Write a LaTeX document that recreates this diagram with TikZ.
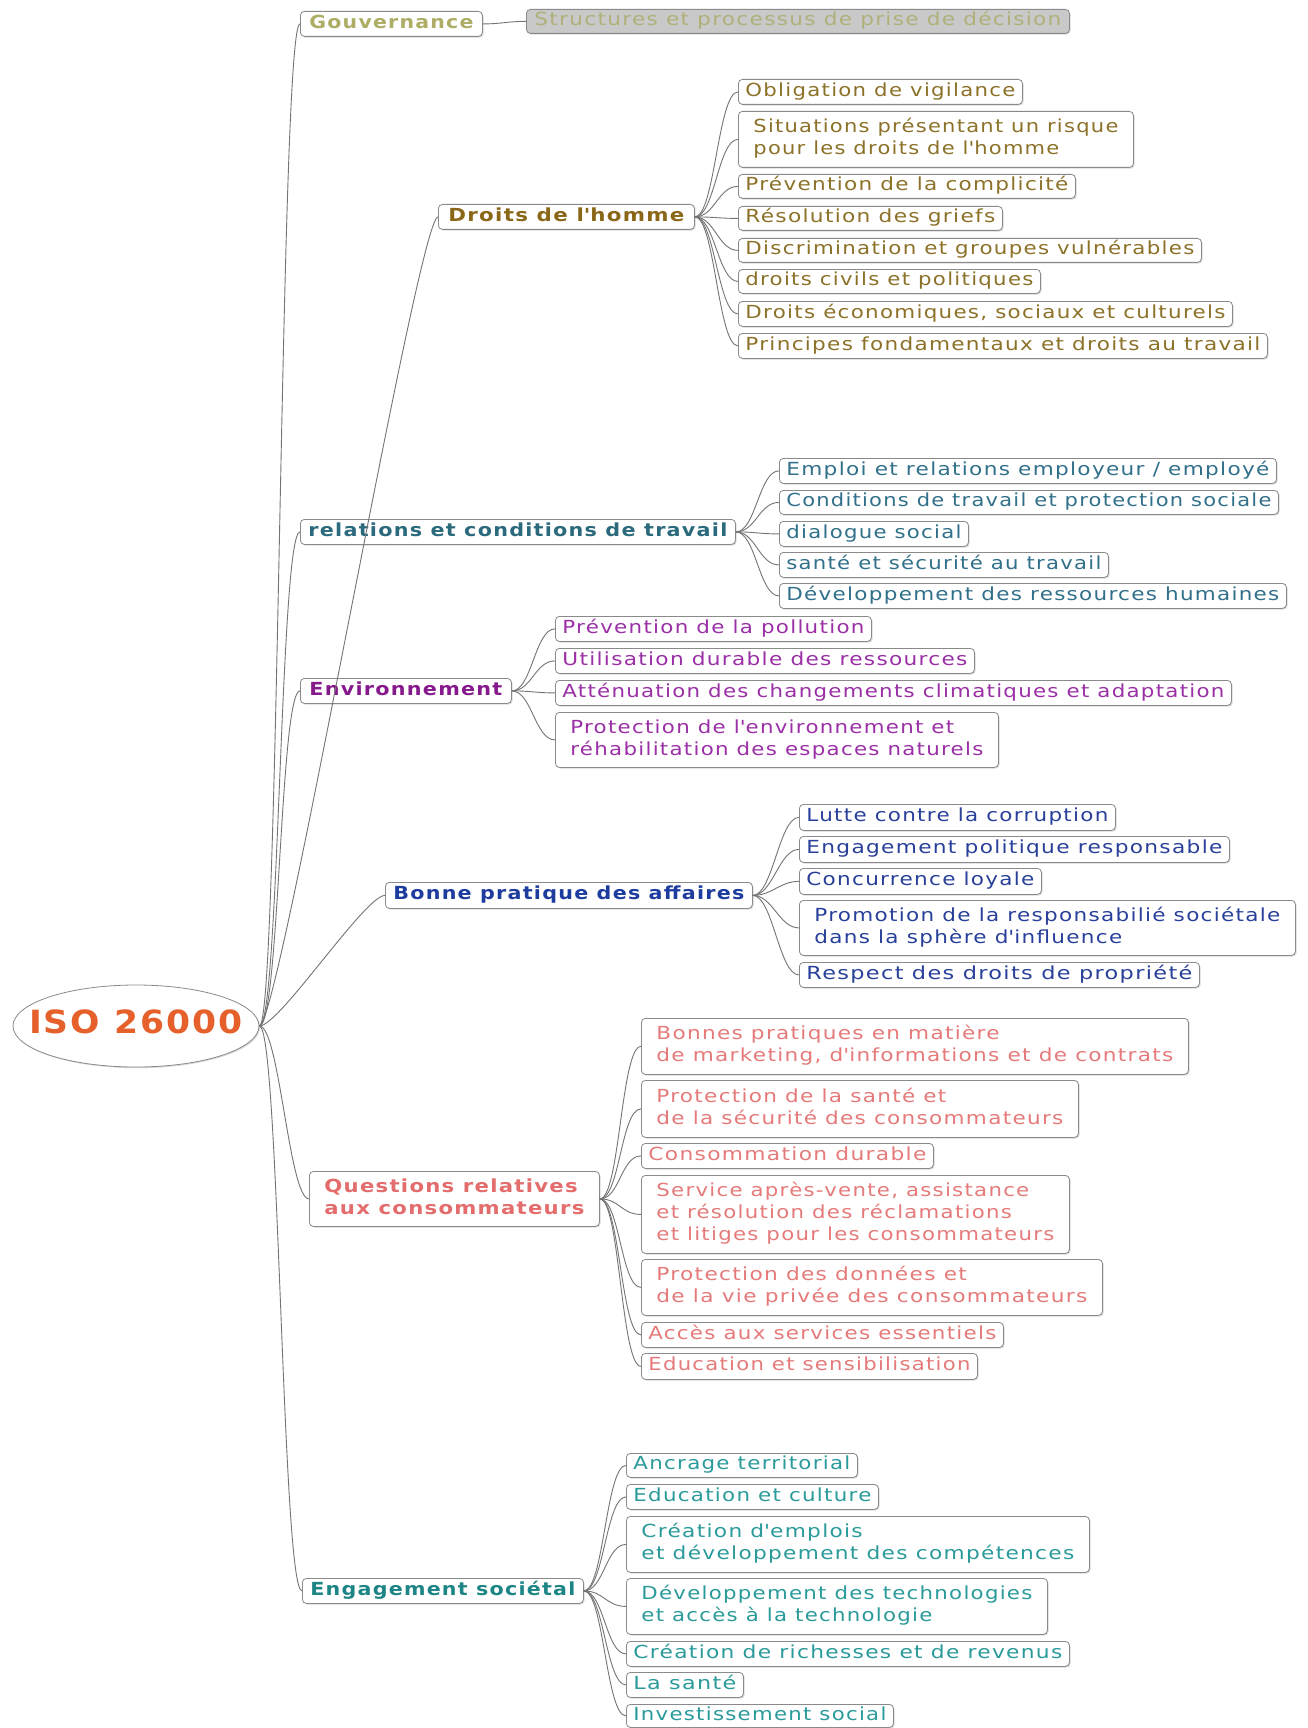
\documentclass[tikz,border=0pt]{standalone}
\usepackage{fontspec}
\setmainfont{DejaVu Sans}[LetterSpace=6]
\usepackage{graphicx}
\usetikzlibrary{shapes.geometric,shadows}
\definecolor{bord}{HTML}{8A8A8A}
\definecolor{conn}{HTML}{747474}
\definecolor{cGov}{HTML}{ADAD66}
\definecolor{cGovS}{HTML}{B0B07A}
\definecolor{cGovF}{HTML}{C9C9C9}
\definecolor{cDH}{HTML}{8A6718}
\definecolor{cDHc}{HTML}{8C7128}
\definecolor{cRT}{HTML}{2B6A7C}
\definecolor{cRTc}{HTML}{31708A}
\definecolor{cEnv}{HTML}{861A8C}
\definecolor{cEnvc}{HTML}{9A2FA6}
\definecolor{cBP}{HTML}{1D3C9E}
\definecolor{cBPc}{HTML}{28409A}
\definecolor{cQ}{HTML}{E36C6C}
\definecolor{cQc}{HTML}{E67A7A}
\definecolor{cES}{HTML}{1D8585}
\definecolor{cESc}{HTML}{2A9A9A}
\definecolor{cISO}{HTML}{E5602B}
\newcommand\ap{\textquotesingle}
\newsavebox\fitbox
\newcommand\fitto[2]{\sbox\fitbox{\begin{tabular}{@{}l@{}}#2\end{tabular}}%
  \pgfmathsetmacro\fitr{(#1)/\the\wd\fitbox}\scalebox{\fitr}[1]{\usebox\fitbox}}
\tikzset{
  box/.style={draw=bord, fill=white, rounded corners=4pt, line width=0.8pt, inner sep=0pt,
    anchor=north west, drop shadow={shadow xshift=1.2pt, shadow yshift=-1.2pt, opacity=0.15, fill=black},
    font=\fontsize{18}{22}\selectfont},
  hd/.style={box, font=\fontsize{18}{22}\selectfont\bfseries},
  ch/.style={box},
  link/.style={draw=conn, line width=0.9pt},
}
\newcommand\bx[8]{%
  \pgfmathsetmacro\bxw{#4-#2}%
  \pgfmathsetmacro\bxh{#5-#3}%
  \pgfmathsetmacro\bxt{#4-#2-2*#7}%
  \node[#6, minimum width=\bxw pt, minimum height=\bxh pt] (#1) at (#2,#3) {\fitto{\bxt}{#8}};}
\newcommand\lk[2]{\draw[link] (#1.east) .. controls +(20,0) and +(-20,0) .. (#2.west);}
\begin{document}
\begin{tikzpicture}[x=1pt,y=-1pt]
\useasboundingbox (0,0) rectangle (1308,1728);
\fill[white] (0,0) rectangle (1308,1728);

% root
\node[ellipse, draw=bord, fill=white, line width=0.8pt, minimum width=246pt, minimum height=82pt, inner sep=0pt,
  font=\fontsize{32}{36}\selectfont\bfseries, text=cISO,
  drop shadow={shadow xshift=1.2pt, shadow yshift=-1.2pt, opacity=0.15, fill=black}] (root) at (136,1026)
  {\makebox[0pt]{\fitto{214}{ISO 26000}}};

% Gouvernance
\bx{g}{300}{11}{482}{36}{hd,text=cGov}{9}{Gouvernance}
\bx{g1}{526}{9}{1069}{33}{ch,fill=cGovF,text=cGovS}{8}{Structures et processus de prise de décision}

% Droits de l'homme
\bx{d}{438}{204}{694}{229}{hd,text=cDH}{10}{Droits de l\ap homme}
\bx{d1}{738}{79}{1022}{104}{ch,text=cDHc}{7}{Obligation de vigilance}
\bx{d2}{738}{111}{1133}{167}{ch,text=cDHc}{15}{Situations présentant un risque\\pour les droits de l\ap homme}
\bx{d3}{738}{174}{1075}{198}{ch,text=cDHc}{7}{Prévention de la complicité}
\bx{d4}{738}{206}{1002}{230}{ch,text=cDHc}{7}{Résolution des griefs}
\bx{d5}{738}{238}{1201}{262}{ch,text=cDHc}{7}{Discrimination et groupes vulnérables}
\bx{d6}{738}{269}{1040}{293}{ch,text=cDHc}{7}{droits civils et politiques}
\bx{d7}{738}{301}{1232}{326}{ch,text=cDHc}{7}{Droits économiques, sociaux et culturels}
\bx{d8}{738}{333}{1267}{358}{ch,text=cDHc}{7}{Principes fondamentaux et droits au travail}

% relations et conditions de travail
\bx{r}{300}{519}{735}{544}{hd,text=cRT}{8}{relations et conditions de travail}
\bx{r1}{779}{458}{1276}{483}{ch,text=cRTc}{7}{Emploi et relations employeur / employé}
\bx{r2}{779}{490}{1278}{514}{ch,text=cRTc}{7}{Conditions de travail et protection sociale}
\bx{r3}{779}{521}{968}{546}{ch,text=cRTc}{7}{dialogue social}
\bx{r4}{779}{552}{1108}{577}{ch,text=cRTc}{7}{santé et sécurité au travail}
\bx{r5}{779}{583}{1286}{608}{ch,text=cRTc}{7}{Développement des ressources humaines}

% Environnement
\bx{e}{300}{678}{511}{703}{hd,text=cEnv}{9}{Environnement}
\bx{e1}{555}{616}{871}{641}{ch,text=cEnvc}{7}{Prévention de la pollution}
\bx{e2}{555}{648}{974}{673}{ch,text=cEnvc}{7}{Utilisation durable des ressources}
\bx{e3}{555}{680}{1231}{705}{ch,text=cEnvc}{7}{Atténuation des changements climatiques et adaptation}
\bx{e4}{555}{712}{998}{767}{ch,text=cEnvc}{15}{Protection de l\ap environnement et\\réhabilitation des espaces naturels}

% Bonne pratique des affaires
\bx{b}{385}{882}{752}{908}{hd,text=cBP}{8}{Bonne pratique des affaires}
\bx{b1}{799}{804}{1115}{830}{ch,text=cBPc}{7}{Lutte contre la corruption}
\bx{b2}{799}{836}{1229}{862}{ch,text=cBPc}{7}{Engagement politique responsable}
\bx{b3}{799}{868}{1041}{894}{ch,text=cBPc}{7}{Concurrence loyale}
\bx{b4}{799}{900}{1295}{955}{ch,text=cBPc}{15}{Promotion de la responsabilié sociétale\\dans la sphère d\ap influence}
\bx{b5}{799}{962}{1199}{987}{ch,text=cBPc}{7}{Respect des droits de propriété}

% Questions relatives aux consommateurs
\bx{q}{309}{1171}{599}{1226}{hd,text=cQ}{15}{Questions relatives\\aux consommateurs}
\bx{q1}{641}{1018}{1188}{1074}{ch,text=cQc}{15}{Bonnes pratiques en matière\\de marketing, d\ap informations et de contrats}
\bx{q2}{641}{1080}{1078}{1137}{ch,text=cQc}{15}{Protection de la santé et\\de la sécurité des consommateurs}
\bx{q3}{641}{1143}{933}{1168}{ch,text=cQc}{7}{Consommation durable}
\bx{q4}{641}{1175}{1069}{1253}{ch,text=cQc}{15}{Service après-vente, assistance\\et résolution des réclamations\\et litiges pour les consommateurs}
\bx{q5}{641}{1259}{1102}{1315}{ch,text=cQc}{15}{Protection des données et\\de la vie privée des consommateurs}
\bx{q6}{641}{1322}{1003}{1347}{ch,text=cQc}{7}{Accès aux services essentiels}
\bx{q7}{641}{1353}{977}{1379}{ch,text=cQc}{7}{Education et sensibilisation}

% Engagement sociétal
\bx{s}{302}{1578}{583}{1603}{hd,text=cES}{8}{Engagement sociétal}
\bx{s1}{626}{1453}{857}{1477}{ch,text=cESc}{7}{Ancrage territorial}
\bx{s2}{626}{1484}{878}{1509}{ch,text=cESc}{7}{Education et culture}
\bx{s3}{626}{1516}{1089}{1572}{ch,text=cESc}{15}{Création d\ap emplois\\et développement des compétences}
\bx{s4}{626}{1578}{1047}{1634}{ch,text=cESc}{15}{Développement des technologies\\et accès à la technologie}
\bx{s5}{626}{1641}{1069}{1666}{ch,text=cESc}{7}{Création de richesses et de revenus}
\bx{s6}{626}{1672}{743}{1697}{ch,text=cESc}{7}{La santé}
\bx{s7}{626}{1704}{893}{1727}{ch,text=cESc}{7}{Investissement social}

% connectors
\foreach \c in {g,d,r,e,b,q,s} {\lk{root}{\c}}
\lk{g}{g1}
\foreach \c in {d1,d2,d3,d4,d5,d6,d7,d8} {\lk{d}{\c}}
\foreach \c in {r1,r2,r3,r4,r5} {\lk{r}{\c}}
\foreach \c in {e1,e2,e3,e4} {\lk{e}{\c}}
\foreach \c in {b1,b2,b3,b4,b5} {\lk{b}{\c}}
\foreach \c in {q1,q2,q3,q4,q5,q6,q7} {\lk{q}{\c}}
\foreach \c in {s1,s2,s3,s4,s5,s6,s7} {\lk{s}{\c}}
\end{tikzpicture}
\end{document}
